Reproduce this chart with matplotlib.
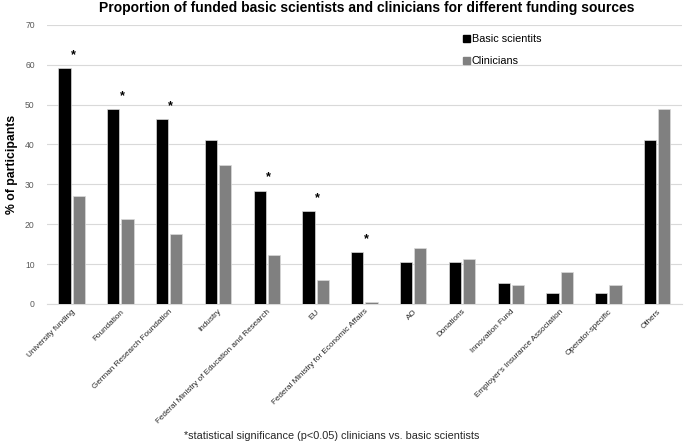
import numpy as np
import matplotlib
matplotlib.use("Agg")
import matplotlib.pyplot as plt
from matplotlib.patches import Patch

plt.rcParams['font.family'] = ['Liberation Sans', 'DejaVu Sans']

categories = ["University funding", "Foundation", "German Research Foundation", "Industry",
              "Federal Ministry of Education and Research", "EU",
              "Federal Ministry for Economic Affairs", "AO", "Donations", "Innovation Fund",
              "Employer's Insurance Association", "Operator-specific", "Others"]
basic = [59.2, 48.9, 46.3, 41.2, 28.4, 23.3, 13.0, 10.4, 10.4, 5.2, 2.7, 2.7, 41.2]
clinic = [27.0, 21.3, 17.6, 34.9, 12.2, 5.9, 0.6, 13.9, 11.3, 4.8, 8.0, 4.8, 49.0]
significant = [True, True, True, False, True, True, True, False, False, False, False, False, False]
yticks = [0, 10, 20, 30, 40, 50, 60, 70]

fig = plt.figure(figsize=(6.85, 4.43), dpi=100)
ax = fig.add_axes([0.069, 0.314, 0.926, 0.630])

x = np.arange(len(categories))
w = 0.25
ax.bar(x - w/2 - 0.02, basic, w, color="black", edgecolor="#d9d9d9", linewidth=0.5, zorder=3,
       label="Basic scientits")
ax.bar(x + w/2 + 0.02, clinic, w, color="#808080", edgecolor="#d9d9d9", linewidth=0.5, zorder=3,
       label="Clinicians")

for i, s in enumerate(significant):
    if s:
        ax.text(x[i] + 0.03, basic[i] + 3.3, "*", ha="center", va="center", fontsize=9, fontweight="bold")

ax.set_xlim(-0.5, len(categories) - 0.5)
ax.set_ylim(0, 70)
ax.set_yticks(yticks)
ax.yaxis.grid(True, color="#d9d9d9", linewidth=0.8, zorder=0)
ax.set_axisbelow(True)
for sp in ["top", "right", "left"]:
    ax.spines[sp].set_visible(False)
ax.spines["bottom"].set_color("#d9d9d9")
ax.tick_params(axis="both", length=0, labelsize=6.2, colors="#595959")
ax.tick_params(axis="y", pad=9)
ax.tick_params(axis="x", pad=3, colors="#262626")
ax.set_xticks(x)
ax.set_xticklabels(categories, rotation=45, ha="right", rotation_mode="anchor", fontsize=5.9)
ax.set_ylabel("% of participants", fontsize=8.8, fontweight="bold", labelpad=5)

fig.suptitle("Proportion of funded basic scientists and clinicians for different funding sources",
             fontsize=10, fontweight="bold", x=0.536, y=0.997)

handles = [Patch(color="black"), Patch(color="#808080")]
fig.legend(handles, ["Basic scientits", "Clinicians"], loc="upper left",
           bbox_to_anchor=(0.662, 0.945), frameon=False, fontsize=7.8,
           handlelength=0.6, handleheight=0.6, handletextpad=0.2, labelspacing=1.1)

fig.text(0.484, 0.016, "*statistical significance (p<0.05) clinicians vs. basic scientists",
         ha="center", va="center", fontsize=7.8, color="#262626")

fig.savefig("out.png", dpi=100)
